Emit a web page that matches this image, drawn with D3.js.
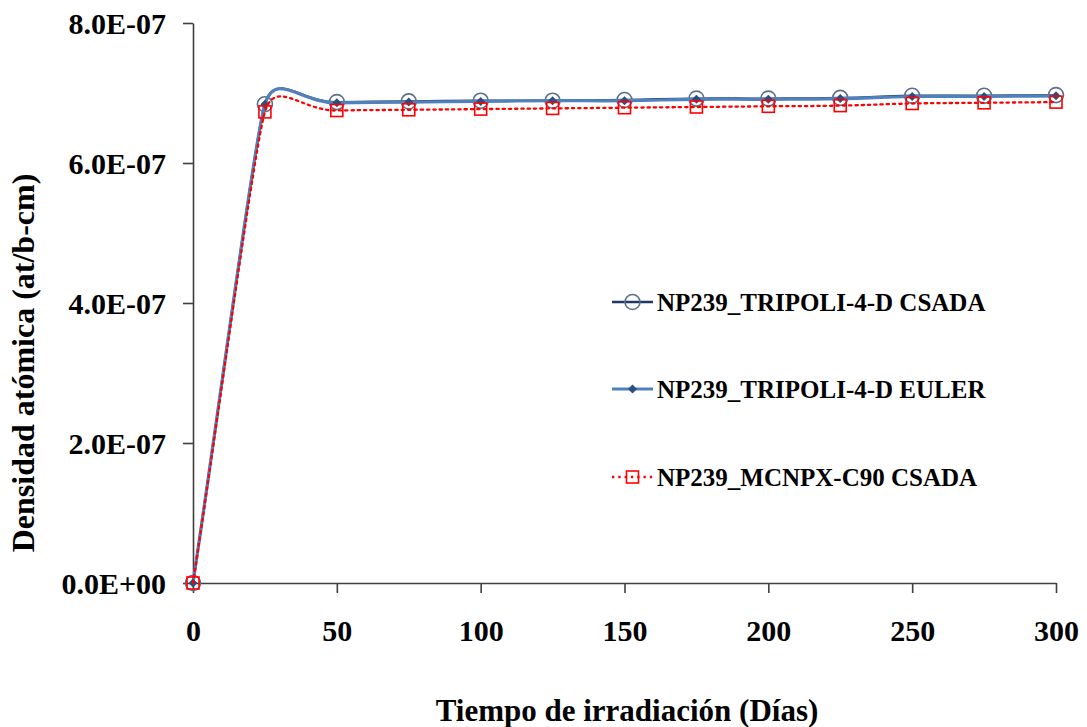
<!DOCTYPE html>
<html>
<head>
<meta charset="utf-8">
<script src="https://cdn.jsdelivr.net/npm/d3@7"></script>
<style>
  html, body { margin: 0; padding: 0; background: #fff; }
  svg { display: block; }
  text { font-family: "Liberation Serif", "Times New Roman", serif; font-weight: bold; fill: #000; }
</style>
</head>
<body>
<svg id="chart" width="1087" height="727"></svg>
<script>
// Irradiation time (days)
const days = [0, 25, 50, 75, 100, 125, 150, 175, 200, 225, 250, 275, 300];

// Np-239 atomic density (at/b-cm), in units of 1E-07
const tripoliCsada = [0, 6.84, 6.87, 6.88, 6.89, 6.89, 6.90, 6.92, 6.92, 6.93, 6.96, 6.96, 6.97];
const tripoliEuler = [0, 6.84, 6.86, 6.87, 6.88, 6.89, 6.89, 6.91, 6.91, 6.92, 6.95, 6.95, 6.96];
const mcnpxCsada   = [0, 6.73, 6.75, 6.76, 6.77, 6.78, 6.79, 6.80, 6.81, 6.82, 6.85, 6.86, 6.87];

const seriesNames = ["NP239_TRIPOLI-4-D CSADA", "NP239_TRIPOLI-4-D EULER", "NP239_MCNPX-C90 CSADA"];

const xTicks = [0, 50, 100, 150, 200, 250, 300];
const yTicks = [0, 2e-7, 4e-7, 6e-7, 8e-7];
const yTickLabels = ["0.0E+00", "2.0E-07", "4.0E-07", "6.0E-07", "8.0E-07"];

const xTitle = "Tiempo de irradiación (Días)";
const yTitle = "Densidad atómica (at/b-cm)";

const svg = d3.select("#chart");
const W = 1087, H = 727;
const margin = { left: 193, right: W - 1056, top: 23, bottom: H - 583 };

const x = d3.scaleLinear().domain([0, 300]).range([margin.left, W - margin.right]);
const y = d3.scaleLinear().domain([0, 8e-7]).range([H - margin.bottom, margin.top]);

const axisColor = "#3f3f3f";

// Axes
const gx = svg.append("g")
  .attr("transform", `translate(0,${H - margin.bottom})`)
  .call(d3.axisBottom(x).tickValues(xTicks).tickSize(10).tickPadding(27).tickSizeOuter(0));
const gy = svg.append("g")
  .attr("transform", `translate(${margin.left},0)`)
  .call(d3.axisLeft(y).tickValues(yTicks).tickSize(10).tickPadding(17).tickSizeOuter(0)
    .tickFormat((d, i) => yTickLabels[i]));

[gx, gy].forEach(g => {
  g.select(".domain").attr("stroke", axisColor).attr("stroke-width", 1.6);
  g.selectAll(".tick line").attr("stroke", axisColor).attr("stroke-width", 1.6);
  g.selectAll(".tick text")
    .style("font-family", '"Liberation Serif", "Times New Roman", serif')
    .style("font-weight", "bold").style("font-size", "30px").attr("fill", "#000");
});
gy.selectAll(".tick text").attr("dy", "0.34em");
gx.selectAll(".tick text").attr("dy", "0.71em");

// Axis titles
svg.append("text")
  .attr("x", 627).attr("y", 721)
  .attr("text-anchor", "middle")
  .style("font-size", "31px")
  .text(xTitle);
svg.append("text")
  .attr("transform", "translate(34,363) rotate(-90)")
  .attr("text-anchor", "middle")
  .style("font-size", "32px")
  .text(yTitle);

// Smoothed spreadsheet-style line: cubic Bezier segments whose handles follow
// the neighbour-to-neighbour direction, with length tied to the shorter chord.
function smoothPath(pts, k = 0.5) {
  const p = d3.path();
  const n = pts.length;
  const dist = (a, b) => Math.hypot(b[0] - a[0], b[1] - a[1]);
  const handles = pts.map((pt, i) => {
    if (i === 0 || i === n - 1) return null;
    const a = pts[i - 1], b = pts[i + 1];
    const dx = b[0] - a[0], dy = b[1] - a[1];
    const len = Math.hypot(dx, dy) || 1;
    const h = k * Math.min(dist(a, pt), dist(pt, b));
    return [dx / len * h, dy / len * h];
  });
  p.moveTo(pts[0][0], pts[0][1]);
  for (let i = 0; i < n - 1; i++) {
    const a = pts[i], b = pts[i + 1];
    let c1, c2;
    if (handles[i]) c1 = [a[0] + handles[i][0], a[1] + handles[i][1]];
    else c1 = [a[0] + (b[0] - a[0]) / 3, a[1] + (b[1] - a[1]) / 3];
    if (handles[i + 1]) c2 = [b[0] - handles[i + 1][0], b[1] - handles[i + 1][1]];
    else c2 = [b[0] - (b[0] - a[0]) / 3, b[1] - (b[1] - a[1]) / 3];
    p.bezierCurveTo(c1[0], c1[1], c2[0], c2[1], b[0], b[1]);
  }
  return p.toString();
}

const styles = [
  { color: "#1f3864", width: 2.4, dash: null },
  { color: "#4f81bd", width: 3.2, dash: null },
  { color: "#ff0000", width: 2.3, dash: "2.3,4" }
];
const data = [tripoliCsada, tripoliEuler, mcnpxCsada];

function drawMarker(g, k, cx, cy) {
  if (k === 0) {
    g.append("circle").attr("cx", cx).attr("cy", cy).attr("r", 7.5)
      .attr("fill", "none").attr("stroke", "#5b6f8c").attr("stroke-width", 1.6);
  } else if (k === 1) {
    const s = 4.5;
    g.append("path")
      .attr("d", `M${cx},${cy - s}L${cx + s},${cy}L${cx},${cy + s}L${cx - s},${cy}Z`)
      .attr("fill", "#2b4f80");
  } else {
    g.append("rect").attr("x", cx - 6).attr("y", cy - 6).attr("width", 12).attr("height", 12)
      .attr("fill", "none").attr("stroke", "#ff0000").attr("stroke-width", 1.6);
  }
}

data.forEach((vals, k) => {
  const g = svg.append("g");
  const pts = vals.map((v, i) => [x(days[i]), y(v * 1e-7)]);
  g.append("path")
    .attr("d", smoothPath(pts))
    .attr("fill", "none")
    .attr("stroke", styles[k].color)
    .attr("stroke-width", styles[k].width)
    .attr("stroke-dasharray", styles[k].dash)
    .attr("stroke-linecap", styles[k].dash ? "round" : "butt");
  pts.forEach(pt => drawMarker(g, k, pt[0], pt[1]));
});

// Legend
const legendRows = [302, 389, 477];
seriesNames.forEach((name, k) => {
  const g = svg.append("g");
  const ly = legendRows[k];
  g.append("line").attr("x1", 612).attr("x2", 653).attr("y1", ly).attr("y2", ly)
    .attr("stroke", styles[k].color).attr("stroke-width", styles[k].width)
    .attr("stroke-dasharray", styles[k].dash);
  drawMarker(g, k, 632.5, ly);
  g.append("text").attr("x", 657).attr("y", ly).attr("dy", "0.35em")
    .style("font-size", "25px").text(name);
});
</script>
</body>
</html>
